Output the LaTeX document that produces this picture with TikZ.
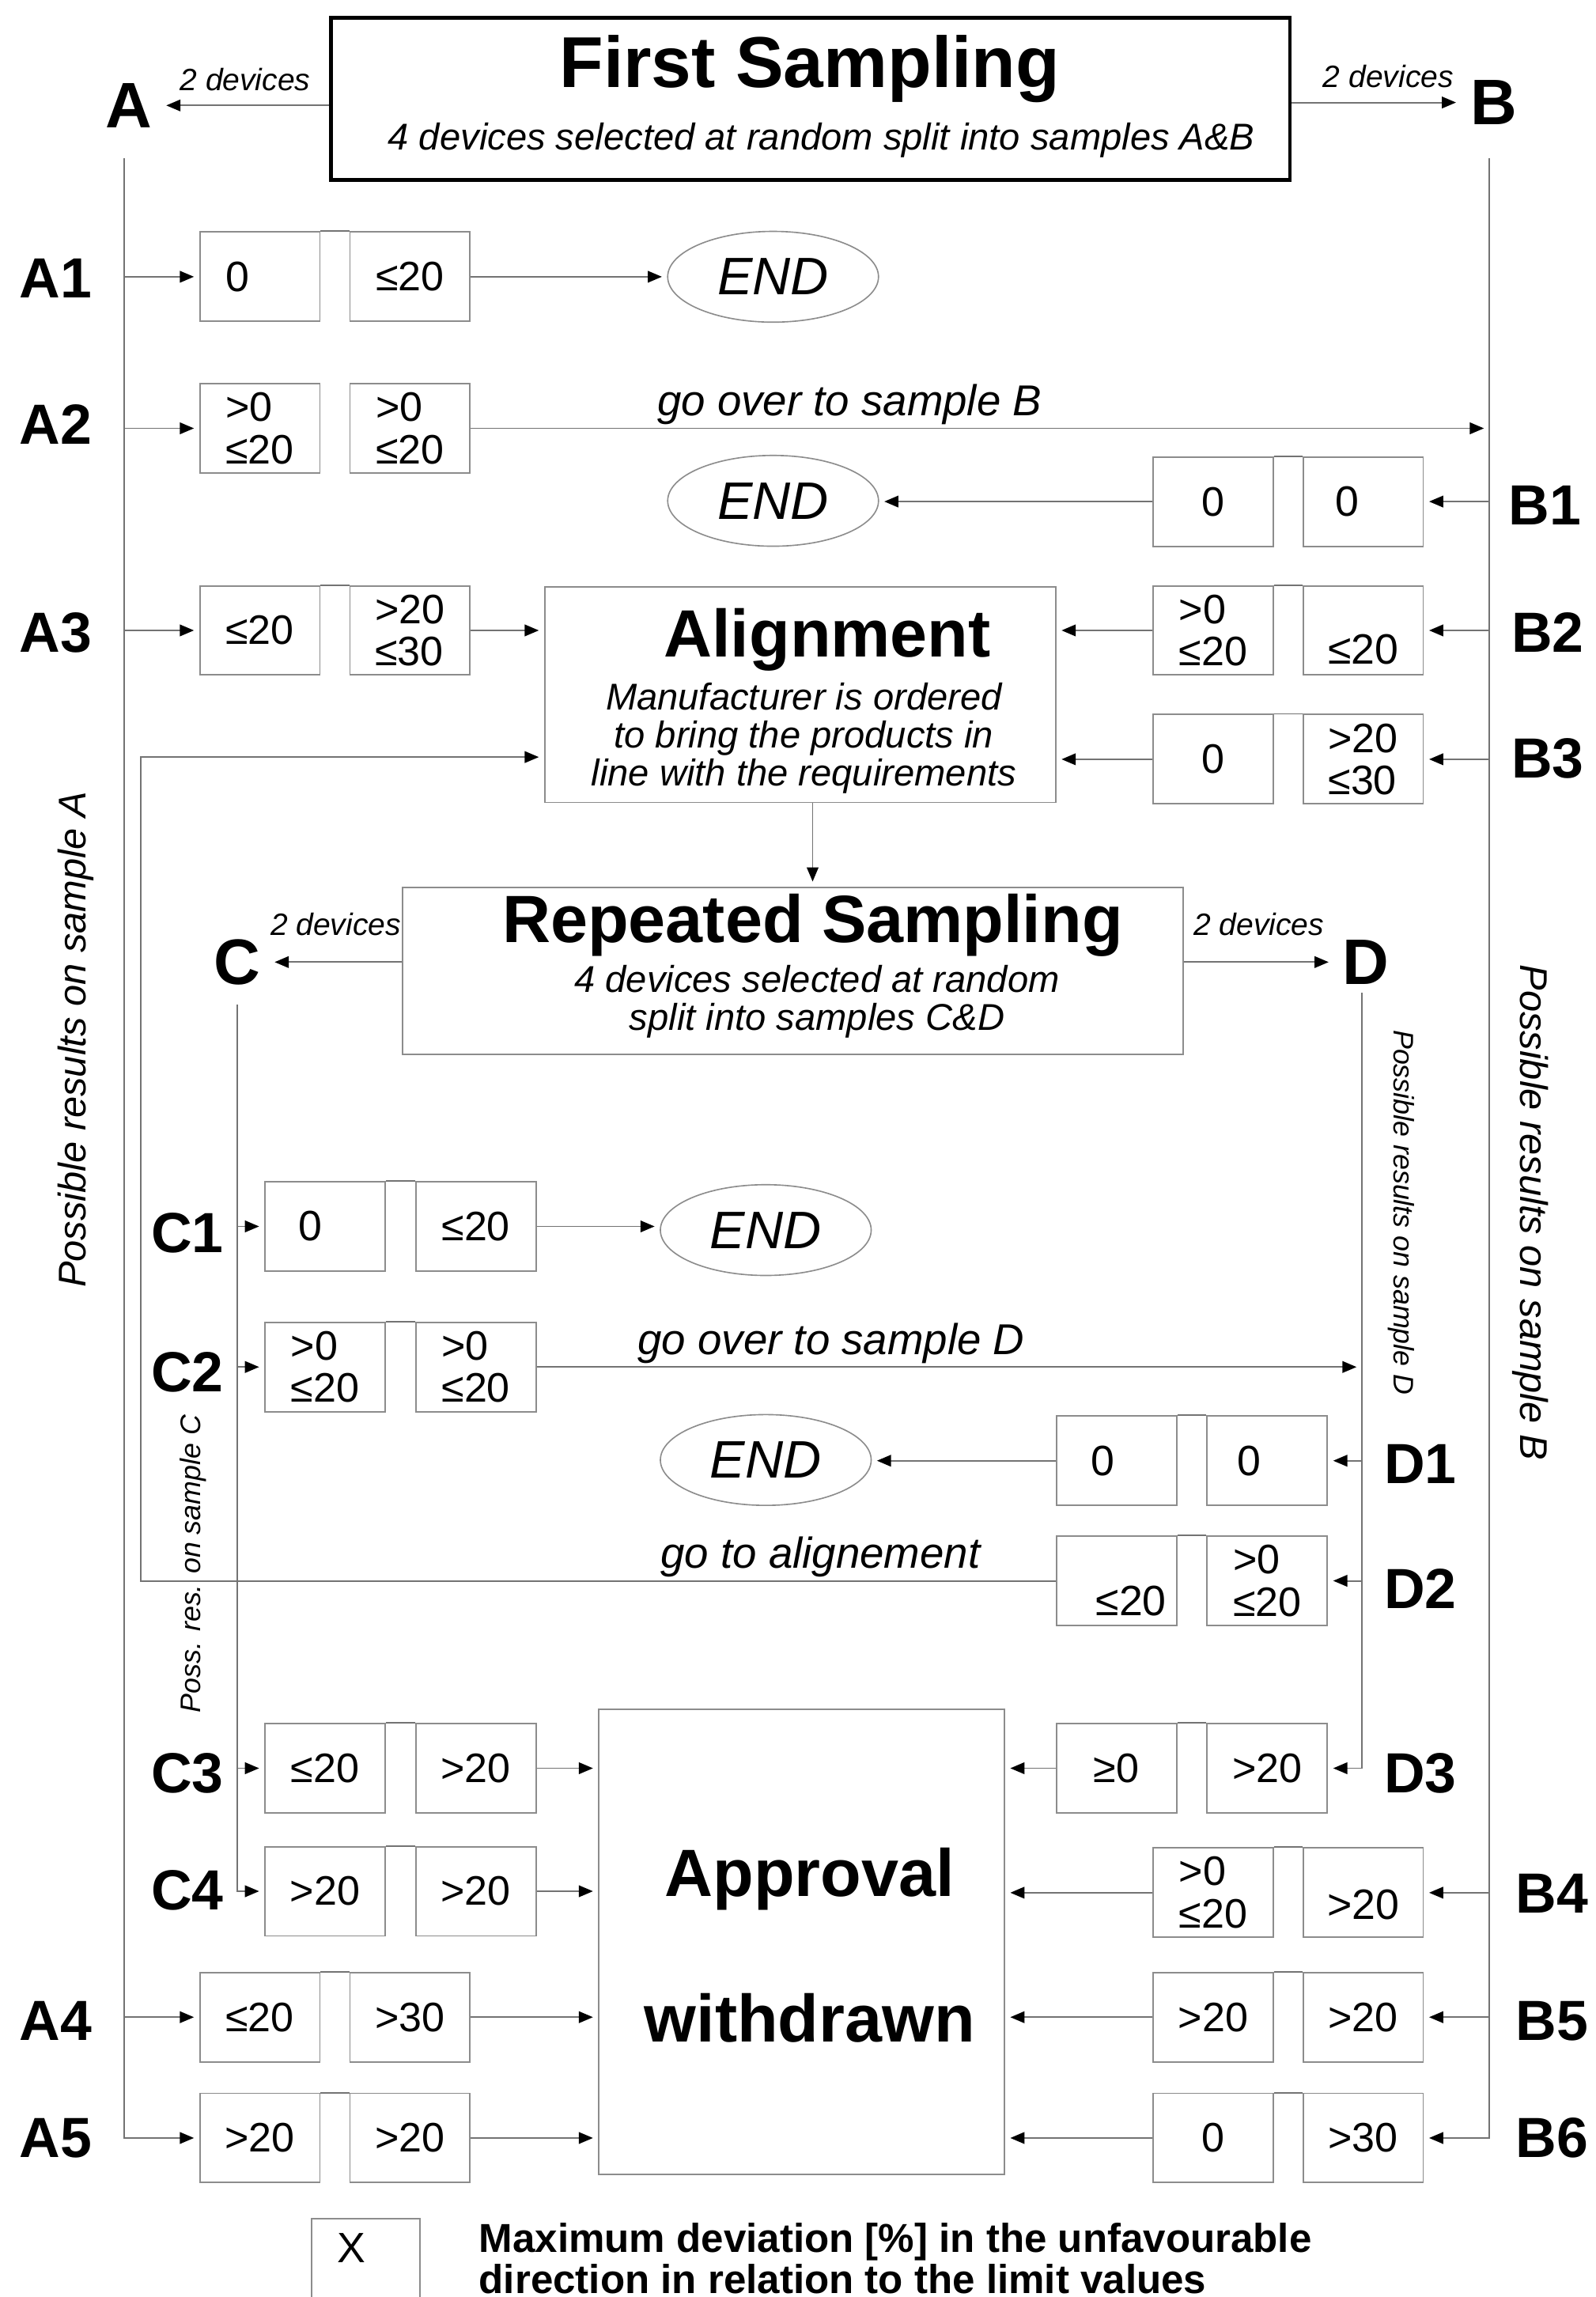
\documentclass[tikz,border=0pt]{standalone}
\usepackage{fontspec}
\setmainfont{Liberation Sans}
\usetikzlibrary{arrows.meta,shapes.geometric}

\begin{document}
\begin{tikzpicture}[x=0.02cm,y=-0.02cm,
  >={Triangle[length=5.5pt,width=4.5pt,color=black]},
  wire/.style={draw=black!55,line width=0.6pt},
  conn/.style={wire,->,shorten >=2pt},
  pairbox/.style={draw=black!45,line width=0.6pt,minimum width=1.64cm,minimum height=1.22cm,inner sep=0pt,align=left,font=\fontsize{16}{16.5}\selectfont},
  boxtext/.style={inner sep=0pt,align=left,font=\fontsize{16.5}{16.5}\selectfont},
  endoval/.style={ellipse,draw=black!45,line width=0.5pt,minimum width=2.88cm,minimum height=1.24cm,inner sep=0pt,font=\fontsize{20.5}{22}\selectfont\itshape},
  panel/.style={draw=black!45,line width=0.6pt,inner sep=0pt},
  titlebig/.style={font=\fontsize{26}{28}\selectfont\bfseries},
  subtext/.style={align=center,font=\fontsize{14.5}{14.8}\selectfont\itshape},
  sampletag/.style={font=\fontsize{25}{27}\selectfont\bfseries},
  rowlabel/.style={font=\fontsize{22}{24}\selectfont\bfseries},
  devtext/.style={font=\fontsize{12}{13}\selectfont\itshape},
  gototext/.style={font=\fontsize{16.8}{18}\selectfont\itshape},
  sidetext/.style={font=\fontsize{15}{16}\selectfont\itshape},
  sidetextsmall/.style={font=\fontsize{11}{12}\selectfont\itshape}]
\useasboundingbox (0,0) rectangle (1090,1568.6);

% first sampling
\path (553.5,67.5) node[draw,line width=1.4pt,minimum width=13.1cm,minimum height=2.22cm] (first) {};
\path (553,47) node[font=\fontsize{28}{30}\selectfont\bfseries] (t1) {First Sampling};
\path (561,96) node[subtext] (t1sub) {4 devices selected at random split into samples A\&B};
\path (88,72) node[sampletag] (A) {A};
\path (1020,70) node[sampletag] (B) {B};
\draw[conn] (first.west|-A) -- node[midway,above=2pt,devtext] {2 devices} (A);
\draw[conn] (first.east|-B) -- node[pos=.57,above=2pt,devtext] {2 devices} (B);
\coordinate (lA) at (85,108);
\coordinate (lB) at (1017,108);

% A1
\path (177.5,189) node[pairbox,label={[boxtext,xshift=-0.3cm]center:0}] (A1a) {};
\path (280,189) node[pairbox] (A1b) {≤20};
\path (38,190) node[rowlabel] (A1) {A1};
\path (528,189) node[endoval] (end1) {END};
\draw[conn] (lA|-A1a) -- (A1a);
\draw[wire] (A1a.north east) -- (A1b.north west);
\draw[conn] (A1b) -- (A1b-|end1.west);

% A2
\path (177.5,292.5) node[pairbox] (A2a) {>0\\≤20};
\path (280,292.5) node[pairbox] (A2b) {>0\\≤20};
\path (38,290) node[rowlabel] (A2) {A2};
\draw[conn] (lA|-A2a) -- (A2a);
\draw[conn] (A2b) -- node[pos=.372,above,inner sep=1pt,gototext] {go over to sample B} (A2b-|lB);

% B1
\path (828.5,342.5) node[pairbox] (B1a) {0};
\path (931,342.5) node[pairbox,label={[boxtext,xshift=-0.22cm]center:0}] (B1b) {};
\path (1055,345) node[rowlabel] (B1) {B1};
\path (528,342) node[endoval] (end2) {END};
\draw[conn] (lB|-B1b) -- (B1b);
\draw[wire] (B1a.north east) -- (B1b.north west);
\draw[conn] (B1a) -- (B1a-|end2.east);

% alignment
\path (546.5,474.5) node[panel,minimum width=6.98cm,minimum height=2.94cm] (alignbox) {};
\path (565,437) node[titlebig] (t2) {Alignment};
\path (549,504) node[subtext] (t2sub) {Manufacturer is ordered\\to bring the products in\\line with the requirements};

% A3
\path (177.5,430.5) node[pairbox] (A3a) {≤20};
\path (280,430.5) node[pairbox] (A3b) {>20\\≤30};
\path (38,432) node[rowlabel] (A3) {A3};
\draw[conn] (lA|-A3a) -- (A3a);
\draw[wire] (A3a.north east) -- (A3b.north west);
\draw[conn] (A3b) -- (A3b-|alignbox.west);

% B2
\path (828.5,430.5) node[pairbox] (B2a) {>0\\≤20};
\path (931,430.5) node[pairbox,label={[boxtext,yshift=-0.26cm]center:≤20}] (B2b) {};
\path (1057,432) node[rowlabel] (B2) {B2};
\draw[conn] (lB|-B2b) -- (B2b);
\draw[wire] (B2a.north east) -- (B2b.north west);
\draw[conn] (B2a) -- (B2a-|alignbox.east);

% B3
\path (828.5,518.5) node[pairbox] (B3a) {0};
\path (931,518.5) node[pairbox] (B3b) {>20\\≤30};
\path (1057,518) node[rowlabel] (B3) {B3};
\draw[conn] (lB|-B3b) -- (B3b);
\draw[wire] (B3a.north east) -- (B3b.north west);
\draw[conn] (B3a) -- (B3a-|alignbox.east);
\coordinate (back) at (96,517);

% repeated sampling
\path (541.5,663) node[panel,minimum width=10.66cm,minimum height=2.28cm] (repbox) {};
\path (555,632) node[titlebig] (t3) {Repeated Sampling};
\path (558,684) node[subtext] (t3sub) {4 devices selected at random\\split into samples C\&D};
\draw[conn] (t3|-alignbox.south) -- (t3|-repbox.north);
\path (162,657) node[sampletag] (C) {C};
\path (933,657) node[sampletag] (D) {D};
\draw[conn] (repbox.west|-C) -- node[midway,above=6.5pt,devtext] {2 devices} (C);
\draw[conn] (repbox.east|-D) -- node[midway,above=6.5pt,devtext] {2 devices} (D);
\coordinate (lC) at (162,686);
\coordinate (lD) at (930,678);

% C1
\path (222,837.5) node[pairbox,label={[boxtext,xshift=-0.2cm]center:0}] (C1a) {};
\path (325,837.5) node[pairbox] (C1b) {≤20};
\path (128,842) node[rowlabel] (C1) {C1};
\path (523,840) node[endoval] (end3) {END};
\draw[conn] (lC|-C1a) -- (C1a);
\draw[wire] (C1a.north east) -- (C1b.north west);
\draw[conn] (C1b) -- (C1b-|end3.west);

% C2
\path (222,933.5) node[pairbox] (C2a) {>0\\≤20};
\path (325,933.5) node[pairbox] (C2b) {>0\\≤20};
\path (128,937) node[rowlabel] (C2) {C2};
\draw[conn] (lC|-C2a) -- (C2a);
\draw[wire] (C2a.north east) -- (C2b.north west);
\draw[conn] (C2b) -- node[pos=.357,above,inner sep=1pt,gototext] {go over to sample D} (C2b-|lD);

% D1
\path (762.5,997.5) node[pairbox,label={[boxtext,xshift=-0.19cm]center:0}] (D1a) {};
\path (865.5,997.5) node[pairbox,label={[boxtext,xshift=-0.25cm]center:0}] (D1b) {};
\path (970,1000) node[rowlabel] (D1) {D1};
\path (523,997) node[endoval] (end4) {END};
\draw[conn] (lD|-D1b) -- (D1b);
\draw[wire] (D1a.north east) -- (D1b.north west);
\draw[conn] (D1a) -- (D1a-|end4.east);

% D2
\path (762.5,1079.5) node[pairbox,label={[boxtext,xshift=0.2cm,yshift=-0.28cm]center:≤20}] (D2a) {};
\path (865.5,1079.5) node[pairbox] (D2b) {>0\\≤20};
\path (970,1085) node[rowlabel] (D2) {D2};
\draw[conn] (lD|-D2b) -- (D2b);
\draw[wire] (D2a.north east) -- (D2b.north west);
\draw[conn] (D2a) -- node[pos=.257,above,inner sep=1pt,gototext] {go to alignement} (D2a-|back) -- (back) -- (back-|alignbox.west);

% side texts
\path (52,710) node[sidetext,rotate=90] (sideA) {Possible results on sample A};
\path (1045,828) node[sidetext,rotate=-90] (sideB) {Possible results on sample B};
\path (957,828) node[sidetextsmall,rotate=-90] (sideD) {Possible results on sample D};
\path (132,1068) node[sidetextsmall,rotate=90] (sideC) {Poss. res. on sample C};

% approval withdrawn
\path (547.5,1326) node[panel,minimum width=5.54cm,minimum height=6.36cm] (apprbox) {};
\path (553,1283) node[titlebig] (t4) {Approval};
\path (553,1378) node[titlebig] (t5) {withdrawn};

% C3
\path (222,1207.5) node[pairbox] (C3a) {≤20};
\path (325,1207.5) node[pairbox] (C3b) {>20};
\path (128,1211) node[rowlabel] (C3) {C3};
\draw[conn] (lC|-C3a) -- (C3a);
\draw[wire] (C3a.north east) -- (C3b.north west);
\draw[conn] (C3b) -- (C3b-|apprbox.west);

% D3
\path (762.5,1207.5) node[pairbox] (D3a) {≥0};
\path (865.5,1207.5) node[pairbox] (D3b) {>20};
\path (970,1211) node[rowlabel] (D3) {D3};
\draw[conn] (lD) |- (D3b);
\draw[wire] (D3a.north east) -- (D3b.north west);
\draw[conn] (D3a) -- (D3a-|apprbox.east);

% C4
\path (222,1291.5) node[pairbox] (C4a) {>20};
\path (325,1291.5) node[pairbox] (C4b) {>20};
\path (128,1291) node[rowlabel] (C4) {C4};
\draw[conn] (lC) |- (C4a);
\draw[wire] (C4a.north east) -- (C4b.north west);
\draw[conn] (C4b) -- (C4b-|apprbox.west);

% B4
\path (828.5,1292.5) node[pairbox] (B4a) {>0\\≤20};
\path (931,1292.5) node[pairbox,label={[boxtext,yshift=-0.16cm]center:>20}] (B4b) {};
\path (1060,1293) node[rowlabel] (B4) {B4};
\draw[conn] (lB|-B4b) -- (B4b);
\draw[wire] (B4a.north east) -- (B4b.north west);
\draw[conn] (B4a) -- (B4a-|apprbox.east);

% A4
\path (177.5,1377.5) node[pairbox] (A4a) {≤20};
\path (280,1377.5) node[pairbox] (A4b) {>30};
\path (38,1380) node[rowlabel] (A4) {A4};
\draw[conn] (lA|-A4a) -- (A4a);
\draw[wire] (A4a.north east) -- (A4b.north west);
\draw[conn] (A4b) -- (A4b-|apprbox.west);

% B5
\path (828.5,1377.5) node[pairbox] (B5a) {>20};
\path (931,1377.5) node[pairbox] (B5b) {>20};
\path (1060,1380) node[rowlabel] (B5) {B5};
\draw[conn] (lB|-B5b) -- (B5b);
\draw[wire] (B5a.north east) -- (B5b.north west);
\draw[conn] (B5a) -- (B5a-|apprbox.east);

% A5
\path (177.5,1460) node[pairbox] (A5a) {>20};
\path (280,1460) node[pairbox] (A5b) {>20};
\path (38,1460) node[rowlabel] (A5) {A5};
\draw[conn] (lA) |- (A5a);
\draw[wire] (A5a.north east) -- (A5b.north west);
\draw[conn] (A5b) -- (A5b-|apprbox.west);

% B6
\path (828.5,1460) node[pairbox] (B6a) {0};
\path (931,1460) node[pairbox] (B6b) {>30};
\path (1060,1460) node[rowlabel] (B6) {B6};
\draw[conn] (lB) |- (B6b);
\draw[wire] (B6a.north east) -- (B6b.north west);
\draw[conn] (B6a) -- (B6a-|apprbox.east);

% key
\path (250,1560) node[pairbox,minimum width=1.48cm,minimum height=1.8cm] (key) {};
\path (240,1535) node[boxtext] (keyx) {X};
\path (321,1542) node[anchor=west,align=left,font=\fontsize{15.7}{16}\selectfont\bfseries] (keytext) {Maximum deviation [\%] in the unfavourable\\direction in relation to the limit values};
\end{tikzpicture}
\end{document}
